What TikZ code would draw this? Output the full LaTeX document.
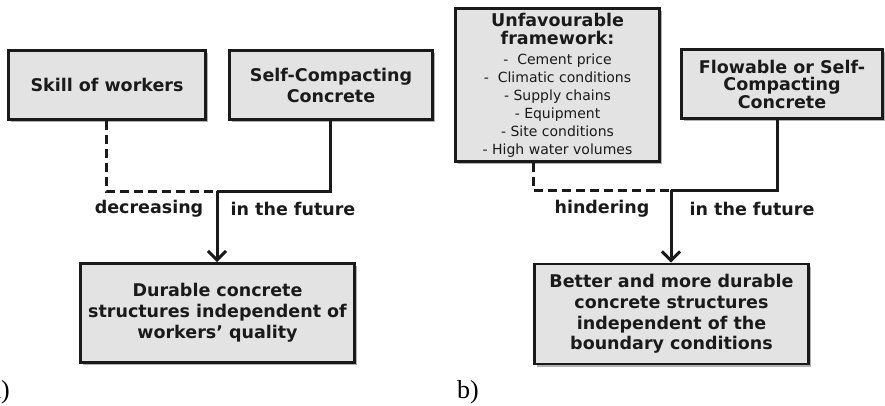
\documentclass[tikz,border=0pt]{standalone}
\usepackage{fontspec}
\setmainfont{Liberation Serif}
\newfontfamily\dvs{DejaVu Sans}
\usetikzlibrary{arrows.meta,shadows}
\definecolor{boxgray}{HTML}{E3E3E3}
\definecolor{ink}{HTML}{1A1A1A}
\tikzset{
  boxstyle/.style={draw=ink, line width=2.8pt, fill=boxgray,
    drop shadow={shadow xshift=2.5pt,shadow yshift=-2.5pt,fill=black,opacity=0.3},
    inner sep=0pt, align=center, text=ink},
  bf21/.style={font=\dvs\bfseries\fontsize{17.5}{21}\selectfont},
  bf17/.style={font=\dvs\bfseries\fontsize{17.5}{17.5}\selectfont},
  conn/.style={draw=ink, line width=3pt},
  dashconn/.style={conn, dash pattern=on 9pt off 5pt},
  lbl/.style={text=ink, font=\dvs\bfseries\fontsize{17.5}{21}\selectfont, inner sep=0pt},
  tipped/.style={-{Straight Barb[length=9pt,width=18pt,line width=3pt]}},
  panel/.style={font=\fontsize{26}{30}\selectfont, inner sep=0pt}
}
\newcommand{\bxf}{\dvs\bfseries\fontsize{17.5}{17.5}\selectfont}
\newcommand{\rgf}{\dvs\mdseries\fontsize{14}{18}\selectfont}
\begin{document}
\begin{tikzpicture}[x=1pt,y=-1pt]
\useasboundingbox (0,0) rectangle (885,405);

% ---------- panel a ----------
\node[boxstyle,bf21,minimum width=197pt,minimum height=69pt] (skill) at (107,85) {Skill of workers};
\node[boxstyle,bf21,minimum width=203pt,minimum height=69pt] (scc) at (331,85) {Self-Compacting\\Concrete};
\node[boxstyle,bf21,minimum width=274pt,minimum height=99pt] (outa) at (217.5,313)
  {Durable concrete\\structures independent of\\workers’ quality};
\coordinate (ja) at (217,191);
\draw[dashconn] ([xshift=-1pt]skill.south) |- (ja);
\draw[conn] ([xshift=-1pt]scc.south) |- (ja);
\draw[conn,tipped] (ja) -- (ja |- outa.north);
\node[lbl] (la1) at (149,209) {decreasing};
\node[lbl] (la2) at (293,209) {in the future};
\node[panel,anchor=base east] (pa) at (10,398) {a)};

% ---------- panel b ----------
\node[boxstyle,font=\rgf,minimum width=204pt,minimum height=153pt] (unf) at (557.5,85)
  {{\bxf Unfavourable}\\{\bxf framework:}\\[2pt]
   -\ \ Cement price\\-\ \ Climatic conditions\\- Supply chains\\- Equipment\\- Site conditions\\- High water volumes};
\node[boxstyle,bf17,minimum width=201pt,minimum height=69pt] (flow) at (782,84)
  {Flowable or Self-\\Compacting\\Concrete};
\node[boxstyle,font=\dvs\bfseries\fontsize{17.5}{20.7}\selectfont,minimum width=274pt,minimum height=100pt] (outb) at (671.5,314)
  {Better and more durable\\concrete structures\\independent of the\\boundary conditions};
\coordinate (jb) at (671,190);
\draw[dashconn] ([xshift=-24.5pt]unf.south) |- (jb);
\draw[conn] ([xshift=-5pt]flow.south) |- (jb);
\draw[conn,tipped] (jb) -- (jb |- outb.north);
\node[lbl] (lb1) at (602,209) {hindering};
\node[lbl] (lb2) at (752,209) {in the future};
\node[panel,anchor=base west] (pb) at (457,398) {b)};
\end{tikzpicture}
\end{document}
